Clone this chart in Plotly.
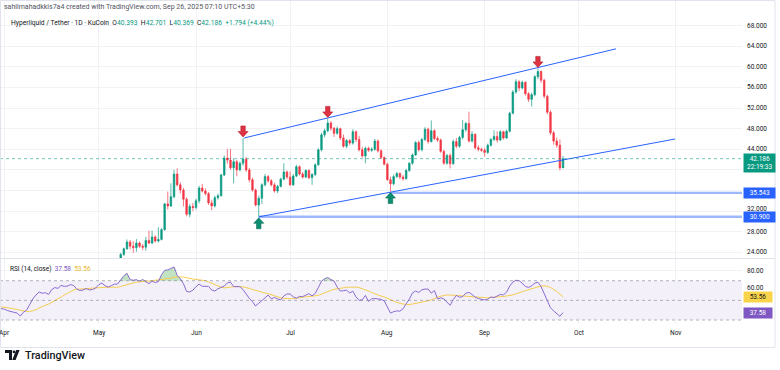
import plotly.graph_objects as go
import pandas as pd

# ---------------- DATA ----------------
candle_start = "2025-05-07"   # daily candles May 7 -> Sep 26
price_open = [
    21.6, 22.5, 23.6, 24.7, 26.0, 25.2, 24.9, 25.8, 25.2, 25.0, 26.3, 25.8, 27.0, 26.2, 26.5, 28.4, 33.4, 33.0, 34.8, 39.2, 37.1, 36.1, 34.3, 31.4, 32.9,
    32.7, 34.0, 36.5, 35.9, 35.4, 33.6, 33.0, 34.6, 35.0, 39.0, 42.3, 41.9, 40.4, 41.6, 40.0, 41.3, 42.1, 40.0, 38.1, 36.1, 33.2, 34.5, 37.1, 38.7, 37.9, 37.1, 35.9, 36.8, 38.2, 39.6,
    38.6, 37.1, 38.8, 40.6, 39.2, 38.6, 39.9, 38.5, 39.1, 41.0, 43.9, 46.8, 47.6, 49.1, 48.1, 47.1, 48.0, 46.2, 44.6, 45.7, 45.2, 47.4, 45.9, 43.9, 42.7, 44.2, 43.8, 44.0, 45.6, 43.7, 42.4,
    41.1, 38.1, 37.3, 38.7, 39.3, 38.6, 38.3, 39.9, 41.3, 42.9, 45.3, 43.9, 45.9, 47.9, 45.5, 47.6, 46.1, 45.8, 43.6, 41.3, 42.8, 41.2, 45.5, 44.6, 46.3, 47.8, 49.0, 45.6, 46.9, 44.3, 44.0,
    43.8, 43.4, 44.8, 45.9, 46.5, 45.8, 47.4, 46.2, 47.5, 51.0, 55.1, 57.1, 55.9, 57.0, 54.8, 53.7, 54.6, 58.1, 59.1, 57.4, 54.3, 51.2, 47.2, 45.6, 44.8, 40.393,
]
price_high = [
    22.8, 23.9, 24.9, 26.5, 26.4, 26.2, 26.6, 26.1, 25.6, 27.0, 28.2, 28.2, 27.3, 28.9, 28.7, 33.6, 35.8, 37.4, 40.0, 40.3, 37.6, 36.5, 34.7, 33.4, 33.6,
    34.4, 36.9, 37.3, 36.4, 35.7, 34.2, 35.0, 35.4, 39.3, 42.8, 44.1, 44.1, 42.2, 41.9, 41.6, 46.2, 42.5, 40.4, 38.5, 36.4, 35.0, 37.4, 39.2, 39.0, 38.2, 37.5, 37.1, 38.5, 41.3, 39.9,
    39.7, 39.2, 41.0, 40.9, 39.6, 40.1, 40.1, 39.4, 41.3, 44.2, 47.2, 48.0, 50.0, 49.5, 48.3, 48.4, 48.2, 46.9, 46.0, 46.0, 47.9, 47.6, 46.6, 44.5, 44.5, 44.5, 44.4, 46.0, 45.9, 44.0, 42.6,
    41.4, 38.7, 39.1, 39.6, 39.5, 39.0, 40.2, 41.5, 43.2, 45.6, 45.7, 46.2, 48.3, 48.2, 49.6, 47.9, 46.5, 46.1, 43.9, 43.1, 43.2, 45.9, 46.2, 46.6, 49.7, 49.3, 51.3, 47.5, 47.1, 44.8, 44.3,
    44.3, 45.1, 46.2, 47.7, 47.5, 47.7, 47.6, 47.8, 51.3, 55.5, 57.6, 57.4, 57.3, 57.2, 55.1, 55.0, 58.4, 59.7, 59.3, 57.7, 54.6, 51.6, 47.6, 46.3, 45.9, 42.701,
]
price_low = [
    21.3, 22.3, 23.3, 24.5, 24.6, 23.9, 24.1, 24.8, 24.4, 24.3, 25.6, 25.6, 25.9, 25.9, 26.3, 28.2, 32.3, 32.8, 34.5, 36.8, 35.4, 32.9, 31.0, 30.8, 32.0,
    32.3, 33.5, 35.6, 35.0, 33.2, 32.2, 32.7, 34.2, 34.8, 38.8, 41.2, 40.0, 37.4, 38.8, 39.7, 40.8, 39.6, 37.6, 35.8, 32.9, 30.9, 33.4, 36.8, 37.5, 36.8, 35.6, 35.5, 36.6, 38.0, 38.2,
    36.9, 36.9, 38.6, 38.9, 38.3, 38.4, 38.2, 37.1, 38.8, 40.8, 43.6, 46.3, 47.3, 47.6, 46.4, 46.8, 45.8, 44.3, 44.2, 44.8, 44.9, 45.4, 43.6, 42.4, 41.3, 43.5, 43.5, 43.7, 43.4, 42.1, 40.9,
    37.9, 35.8, 37.0, 38.4, 38.2, 37.9, 38.1, 39.6, 41.0, 42.7, 43.6, 43.6, 45.6, 45.1, 45.3, 45.8, 45.4, 43.3, 41.0, 41.0, 40.3, 41.0, 44.2, 44.3, 45.9, 47.4, 45.3, 45.3, 44.0, 43.6, 43.5,
    42.6, 43.1, 44.5, 45.6, 45.3, 45.6, 45.9, 46.0, 47.3, 50.8, 54.8, 55.3, 55.6, 54.4, 53.2, 52.3, 54.3, 57.6, 56.9, 53.9, 50.8, 46.8, 44.9, 44.3, 39.9, 40.369,
]
price_close = [
    22.5, 23.6, 24.7, 26.0, 25.2, 24.9, 25.8, 25.2, 25.0, 26.3, 25.8, 27.0, 26.2, 26.5, 28.4, 33.4, 33.0, 34.8, 39.2, 37.1, 36.1, 34.3, 31.4, 32.9, 32.7,
    34.0, 36.5, 35.9, 35.4, 33.6, 33.0, 34.6, 35.0, 39.0, 42.3, 41.9, 40.4, 41.6, 40.0, 41.3, 42.1, 40.0, 38.1, 36.1, 33.2, 34.5, 37.1, 38.7, 37.9, 37.1, 35.9, 36.8, 38.2, 39.6, 38.6,
    37.1, 38.8, 40.6, 39.2, 38.6, 39.9, 38.5, 39.1, 41.0, 43.9, 46.8, 47.6, 49.1, 48.1, 47.1, 48.0, 46.2, 44.6, 45.7, 45.2, 47.4, 45.9, 43.9, 42.7, 44.2, 43.8, 44.0, 45.6, 43.7, 42.4, 41.1,
    38.1, 37.3, 38.7, 39.3, 38.6, 38.3, 39.9, 41.3, 42.9, 45.3, 43.9, 45.9, 47.9, 45.5, 47.6, 46.1, 45.8, 43.6, 41.3, 42.8, 41.2, 45.5, 44.6, 46.3, 47.8, 49.0, 45.6, 46.9, 44.3, 44.0, 43.8,
    43.4, 44.8, 45.9, 46.5, 45.8, 47.4, 46.2, 47.5, 51.0, 55.1, 57.1, 55.9, 57.0, 54.8, 53.7, 54.6, 58.1, 59.1, 57.4, 54.3, 51.2, 47.2, 45.6, 44.8, 40.392, 42.186,
]

rsi_start = "2025-03-30"      # daily RSI(14) and its SMA(14), Mar 30 -> Sep 26
rsi_values = [
    42.0, 41.5,
    41, 39.5, 38.5, 37.5, 37, 34, 38, 40, 46, 51.5, 55.5, 58.5, 57.2, 57.8, 56, 61, 63, 62.2, 65.2, 64.2, 64.5, 66, 65, 61.5, 60, 60.5, 62, 60.6, 61, 62.5,
    66, 67.5, 65, 63.5, 65, 66.5, 66.6, 71, 75, 77.5, 71, 70.5, 71, 69.5, 71.2, 69, 67, 69.5, 68.2, 69, 76, 80.5, 81, 82.5, 84, 75.5, 72, 67, 59, 58.6, 60.3,
    64, 66.5, 64.3, 64.5, 64.2, 60.5, 59.5, 61.8, 63.5, 64.5, 67.8, 68.5, 64, 63.9, 63.9, 61, 56, 52, 48.7, 44.3, 47, 50, 52, 55.4, 51.5, 53, 51.5, 50.5, 54.5, 56.5,
    56.5, 53.6, 52.2, 54, 53.8, 55.5, 56.8, 54.6, 57, 63, 69.5, 72, 73.2, 71.2, 69.8, 63.5, 59.5, 59.8, 60.4, 57.5, 59.4, 53.5, 50, 50.5, 55, 49, 51.5, 51.9, 51.5, 51, 49.5,
    42.5, 37, 38.5, 39.3, 39, 41.4, 46.5, 51.2, 57.5, 59.5, 58, 60.8, 61.5, 61.5, 57.3, 60, 51.5, 52.5, 51.5, 48.2, 44.9, 50.8, 55, 53.2, 53.8, 57.3, 58.1, 56, 53.3, 51.8, 50.8,
    50.4, 51.2, 53.4, 52.8, 54.5, 56, 55.5, 58.3, 64.5, 68.5, 70.5, 70.0, 67.4, 64.1, 63.2, 64.8, 67.5, 68.5, 64, 57, 49.5, 42.5, 39.3, 37, 33.8, 37.58,
]
rsi_ma_values = [
    43.8, 43.5,
    43.1, 42.6, 42.0, 41.3, 40.6, 39.9, 39.2, 38.6, 38.6, 39.3, 40.5, 42.3, 44.0, 45.1, 46.2, 47.8, 49.5, 51.3, 53.3, 55.4, 57.3, 59.2, 60.5, 61.3, 61.6, 61.7, 62.1, 62.3, 62.6, 62.7,
    62.9, 63.3, 63.3, 63.3, 63.3, 63.3, 63.4, 64.1, 65.2, 66.4, 67.1, 67.8, 68.5, 69.0, 69.3, 69.5, 69.6, 70.0, 70.3, 70.4, 71.1, 71.8, 72.2, 72.6, 73.5, 73.9, 73.9, 73.7, 72.9, 72.1, 71.7,
    71.3, 71.1, 70.8, 70.0, 68.8, 67.4, 65.7, 64.1, 63.3, 62.7, 62.8, 63.5, 63.9, 64.1, 64.1, 63.7, 63.1, 62.2, 61.1, 60.0, 59.1, 58.2, 57.4, 56.8, 55.6, 54.5, 53.6, 52.6, 52.0, 51.6,
    51.7, 51.8, 52.0, 52.7, 53.2, 53.6, 54.0, 53.9, 54.3, 55.0, 56.3, 57.8, 59.2, 60.2, 61.2, 61.9, 62.4, 62.8, 63.3, 63.4, 63.6, 63.5, 63.0, 62.1, 61.1, 59.5, 57.9, 56.5, 55.2, 54.3, 53.6,
    52.4, 50.7, 49.3, 47.9, 46.9, 46.3, 46.0, 45.7, 46.3, 46.9, 47.3, 48.0, 48.7, 49.6, 50.6, 52.3, 53.2, 54.2, 55.1, 55.5, 55.4, 55.4, 55.2, 54.8, 54.5, 54.2, 54.0, 53.6, 53.3, 52.7, 52.7,
    52.5, 52.5, 52.9, 53.4, 53.7, 53.8, 53.9, 54.2, 54.8, 55.5, 56.6, 57.9, 59.0, 59.9, 60.9, 61.8, 62.8, 64.0, 64.6, 64.7, 64.3, 63.1, 61.3, 59.1, 56.4, 53.56,
]

price_ticks = [24, 28, 32, 36, 40, 44, 48, 52, 56, 60, 64, 68]
price_tick_labels = ["24.000", "28.000", "32.000", "36.000", "40.000", "44.000", "48.000", "52.000",
                     "56.000", "60.000", "64.000", "68.000"]
rsi_ticks = [40, 60, 80]
rsi_tick_labels = ["40.00", "60.00", "80.00"]
month_ticks = ["2025-04-01", "2025-05-01", "2025-06-01", "2025-07-01",
               "2025-08-01", "2025-09-01", "2025-10-01", "2025-11-01"]
month_labels = ["Apr", "May", "Jun", "Jul", "Aug", "Sep", "Oct", "Nov"]

upper_channel_dates = ["2025-06-16 09:00", "2025-10-12 21:00"]
upper_channel_prices = [46.2, 63.5]
lower_channel_dates = ["2025-06-21 02:00", "2025-10-31 17:00"]
lower_channel_prices = [30.9, 46.0]

support_levels = [35.543, 30.900]
support_from = ["2025-08-02", "2025-06-21"]

peak_dates = ["2025-06-16", "2025-07-13", "2025-09-18"]
trough_dates = ["2025-06-21", "2025-08-02"]

countdown = "22:19:33"
author_line = "sahilmahadkkis7a4 created with TradingView.com, Sep 26, 2025 07:10 UTC+5:30"
symbol_line = "Hyperliquid / Tether · 1D · KuCoin"

# ---------------- FIGURE ----------------
W, H = 780, 370
PLOT_R = 742          # right edge of plotting area (px)
UP, DN = "#089981", "#f23645"
GRID = "#f0f2f6"
TXT = "#131722"
FONT = "Roboto"
X_RANGE = ["2025-03-30 12:29", "2025-11-22 01:12"]
P_RANGE = [22.9, 72.98]
R_RANGE = [25.95, 92.08]
P_DOM = [1 - 258 / H, 1]
R_DOM = [1 - 324 / H, 1 - 259 / H]


def px(x):
    return x / W


def py(y):
    return 1 - y / H


dates_c = pd.date_range(candle_start, periods=len(price_close), freq="D")
dates_r = pd.date_range(rsi_start, periods=len(rsi_values), freq="D")
idx = {d.strftime("%Y-%m-%d"): i for i, d in enumerate(dates_c)}

fig = go.Figure()

fig.add_trace(go.Candlestick(
    x=dates_c, open=price_open, high=price_high, low=price_low, close=price_close,
    increasing=dict(line=dict(color="rgba(8,153,129,0.75)", width=0.9), fillcolor=UP),
    decreasing=dict(line=dict(color="rgba(242,54,69,0.75)", width=0.9), fillcolor=DN),
    whiskerwidth=0, xaxis="x", yaxis="y", showlegend=False, hoverinfo="skip"))

# channel lines
fig.add_trace(go.Scatter(x=upper_channel_dates, y=upper_channel_prices, mode="lines",
                         line=dict(color="#2962ff", width=1), xaxis="x", yaxis="y",
                         showlegend=False, hoverinfo="skip"))
fig.add_trace(go.Scatter(x=lower_channel_dates, y=lower_channel_prices, mode="lines",
                         line=dict(color="#2962ff", width=1), xaxis="x", yaxis="y",
                         showlegend=False, hoverinfo="skip"))

# horizontal supports
for lvl, start in zip(support_levels, support_from):
    fig.add_trace(go.Scatter(x=[start, X_RANGE[1]], y=[lvl, lvl], mode="lines",
                             line=dict(color="rgba(41,98,255,0.45)", width=2.4),
                             xaxis="x", yaxis="y", showlegend=False, hoverinfo="skip"))

# RSI overbought fill
ob = [max(v, 70) for v in rsi_values]
fig.add_trace(go.Scatter(x=dates_r, y=[70] * len(rsi_values), mode="lines",
                         line=dict(width=0, color="rgba(0,0,0,0)"), xaxis="x2", yaxis="y2",
                         showlegend=False, hoverinfo="skip"))
fig.add_trace(go.Scatter(x=dates_r, y=ob, mode="lines", fill="tonexty",
                         fillcolor="rgba(76,175,80,0.35)", line=dict(width=0, color="rgba(0,0,0,0)"),
                         xaxis="x2", yaxis="y2", showlegend=False, hoverinfo="skip"))
fig.add_trace(go.Scatter(x=dates_r, y=rsi_ma_values, mode="lines",
                         line=dict(color="#f5cd4f", width=1), xaxis="x2", yaxis="y2",
                         showlegend=False, hoverinfo="skip"))
fig.add_trace(go.Scatter(x=dates_r, y=rsi_values, mode="lines",
                         line=dict(color="#8c6bd0", width=1), xaxis="x2", yaxis="y2",
                         showlegend=False, hoverinfo="skip"))

shapes = []
# RSI band
shapes.append(dict(type="rect", xref="paper", yref="y2", x0=0, x1=px(PLOT_R), y0=30, y1=70,
                   fillcolor="rgba(126,87,194,0.09)", line=dict(width=0), layer="below"))
for lv in (70, 50, 30):
    shapes.append(dict(type="line", xref="paper", yref="y2", x0=0, x1=px(PLOT_R), y0=lv, y1=lv,
                       line=dict(color="rgba(120,123,134,0.7)", width=0.8, dash="3px,3px")))
# last price dotted line
shapes.append(dict(type="line", xref="paper", yref="y", x0=0, x1=px(PLOT_R),
                   y0=price_close[-1], y1=price_close[-1],
                   line=dict(color="rgba(8,153,129,0.55)", width=1, dash="dot")))
# panel separator + frame
shapes.append(dict(type="line", xref="paper", yref="paper", x0=0, x1=px(775), y0=py(258.5), y1=py(258.5),
                   line=dict(color="#e0e3eb", width=1)))
shapes.append(dict(type="rect", xref="paper", yref="paper", x0=px(0.5), x1=px(775), y0=py(0.5), y1=py(347.5),
                   line=dict(color="#e0e3eb", width=1)))

# arrows (pixel-sized paths anchored at highs/lows)
DOWN = "M0,1 L-5,6.5 L-2.2,6.5 L-2.2,12 L2.2,12 L2.2,6.5 L5,6.5 Z"
UPA = "M0,-1 L-5,-6.5 L-2.2,-6.5 L-2.2,-12 L2.2,-12 L2.2,-6.5 L5,-6.5 Z"
for d in peak_dates:
    shapes.append(dict(type="path", xref="x", yref="y", xsizemode="pixel", ysizemode="pixel",
                       xanchor=d, yanchor=price_high[idx[d]], path=DOWN,
                       fillcolor="#dd3343", line=dict(color="#b7202e", width=0.6), layer="above"))
for d in trough_dates:
    shapes.append(dict(type="path", xref="x", yref="y", xsizemode="pixel", ysizemode="pixel",
                       xanchor=d, yanchor=price_low[idx[d]], path=UPA,
                       fillcolor="#0c8e70", line=dict(color="#086c55", width=0.6), layer="above"))

# TradingView logo glyph
shapes += [
    dict(type="rect", xref="paper", yref="paper", x0=px(5), x1=px(12), y0=py(353), y1=py(350),
         fillcolor=TXT, line=dict(width=0)),
    dict(type="rect", xref="paper", yref="paper", x0=px(9), x1=px(12), y0=py(360), y1=py(350),
         fillcolor=TXT, line=dict(width=0)),
    dict(type="circle", xref="paper", yref="paper", x0=px(12.6), x1=px(15.4), y0=py(353.3), y1=py(350.5),
         fillcolor=TXT, line=dict(width=0)),
    dict(type="path", xref="paper", yref="paper",
         path=f"M{px(16.2)},{py(350)} L{px(19.6)},{py(350)} L{px(15.6)},{py(360)} L{px(12.2)},{py(360)} Z",
         fillcolor=TXT, line=dict(width=0)),
]

annotations = []
chg = price_close[-1] - price_close[-2]
pct = chg / price_close[-2] * 100
G = UP


def g(s):
    return f"<span style='color:{G}'>{s}</span>"


nb = "\u00a0"
sp = nb * 2
line2 = (symbol_line + sp + "O" + g(f"{price_open[-1]:.3f}") + sp + "H" + g(f"{price_high[-1]:.3f}")
         + sp + "L" + g(f"{price_low[-1]:.3f}") + sp + "C" + g(f"{price_close[-1]:.3f}")
         + sp + g(f"{chg:+.3f} ({pct:+.2f}%)"))
annotations.append(dict(xref="paper", yref="paper", x=px(2), y=py(7), xanchor="left", yanchor="middle",
                        text=author_line, showarrow=False, font=dict(family=FONT, size=7, color="#50535e")))
annotations.append(dict(xref="paper", yref="paper", x=px(9), y=py(22.5), xanchor="left", yanchor="middle",
                        text=line2, showarrow=False, font=dict(family=FONT, size=6.7, color=TXT)))
annotations.append(dict(xref="paper", yref="paper", x=px(8), y=py(268.5), xanchor="left", yanchor="middle",
                        text=("RSI (14, close)" + nb * 2 + f"<span style='color:#7e57c2'>{rsi_values[-1]:.2f}</span>"
                              + nb * 2 + f"<span style='color:#e9b92c'>{rsi_ma_values[-1]:.2f}</span>"),
                        showarrow=False, font=dict(family=FONT, size=6.5, color=TXT)))
annotations.append(dict(xref="paper", yref="paper", x=px(22.5), y=py(355.5), xanchor="left", yanchor="middle",
                        text="TradingView", showarrow=False,
                        font=dict(family=FONT, size=10.8, color=TXT, weight=500)))

# month labels (drawn as text so the clipped first label still shows at the left edge)
for d, lab in zip(month_ticks, month_labels):
    annotations.append(dict(xref="x2", yref="paper", x=d, y=py(333), xanchor="center", yanchor="middle",
                            text=lab, showarrow=False, font=dict(family=FONT, size=6.5, color=TXT)))

# price / RSI tick labels drawn as text (two nudged slightly so value boxes don't cover them)
for v, t in zip(price_ticks, price_tick_labels):
    if v in (36, 40):
        continue            # fully hidden behind the value boxes in the original
    annotations.append(dict(xref="paper", yref="y", x=px(PLOT_R + 3), y=v, xanchor="left", yanchor="middle",
                            text=t, showarrow=False, yshift=2.5 if v == 32 else 0,
                            font=dict(family=FONT, size=6.5, color=TXT)))
for v, t in zip(rsi_ticks, rsi_tick_labels):
    if v == 40:
        continue
    annotations.append(dict(xref="paper", yref="y2", x=px(PLOT_R + 3), y=v, xanchor="left", yanchor="middle",
                            text=t, showarrow=False, yshift=2.5 if v == 60 else 0,
                            font=dict(family=FONT, size=6.5, color=TXT)))

# axis value labels
pad = nb * 3
box = dict(xref="paper", x=px(PLOT_R + 0.5), xanchor="left", showarrow=False, align="center",
           borderpad=0.8)
annotations.append(dict(box, yref="y", y=price_close[-1], yanchor="top", yshift=6,
                        text=f"{pad}{price_close[-1]:.3f}{pad}<br>{countdown}", bgcolor=UP,
                        font=dict(family=FONT, size=6.5, color="white")))
for lvl in support_levels:
    annotations.append(dict(box, yref="y", y=lvl, yanchor="middle", text=f"{pad}{lvl:.3f}{pad}",
                            bgcolor="#2962ff", font=dict(family=FONT, size=6.5, color="white")))
annotations.append(dict(box, yref="y2", y=rsi_ma_values[-1], yanchor="middle",
                        text=f"{pad}{rsi_ma_values[-1]:.2f}{pad}",
                        bgcolor="#f9d44a", font=dict(family=FONT, size=6.5, color=TXT)))
annotations.append(dict(box, yref="y2", y=rsi_values[-1], yanchor="middle",
                        text=f"{pad}{rsi_values[-1]:.2f}{pad}",
                        bgcolor="#7e57c2", font=dict(family=FONT, size=6.5, color="white")))

XD = [0, px(PLOT_R)]
fig.update_layout(
    template="none",
    width=W, height=H, margin=dict(l=0, r=0, t=0, b=0, pad=0, autoexpand=False),
    paper_bgcolor="white", plot_bgcolor="white", showlegend=False,
    font=dict(family=FONT, size=6.5, color=TXT),
    xaxis=dict(domain=XD, range=X_RANGE, type="date", tickvals=month_ticks, showticklabels=False,
               showgrid=True, gridcolor=GRID, gridwidth=1, zeroline=False, anchor="y", automargin=False,
               rangeslider=dict(visible=False), showline=False, ticks=""),
    xaxis2=dict(domain=XD, range=X_RANGE, type="date", tickvals=month_ticks, showticklabels=False,
                showgrid=True, gridcolor=GRID, gridwidth=1, zeroline=False, anchor="y2", matches="x",
                automargin=False, ticks="", showline=False),
    yaxis=dict(domain=P_DOM, range=P_RANGE, side="right", anchor="x", automargin=False,
               tickvals=price_ticks, showticklabels=False,
               showgrid=True, gridcolor=GRID, gridwidth=1, zeroline=False, ticks=""),
    yaxis2=dict(domain=R_DOM, range=R_RANGE, side="right", anchor="x2", automargin=False,
                tickvals=rsi_ticks, showticklabels=False,
                showgrid=True, gridcolor=GRID, gridwidth=1, zeroline=False, ticks=""),
    shapes=shapes, annotations=annotations,
)

fig.write_html("out.html", config={"displayModeBar": False, "staticPlot": True},
               post_script="document.body.style.margin='0';document.body.style.padding='0';")
